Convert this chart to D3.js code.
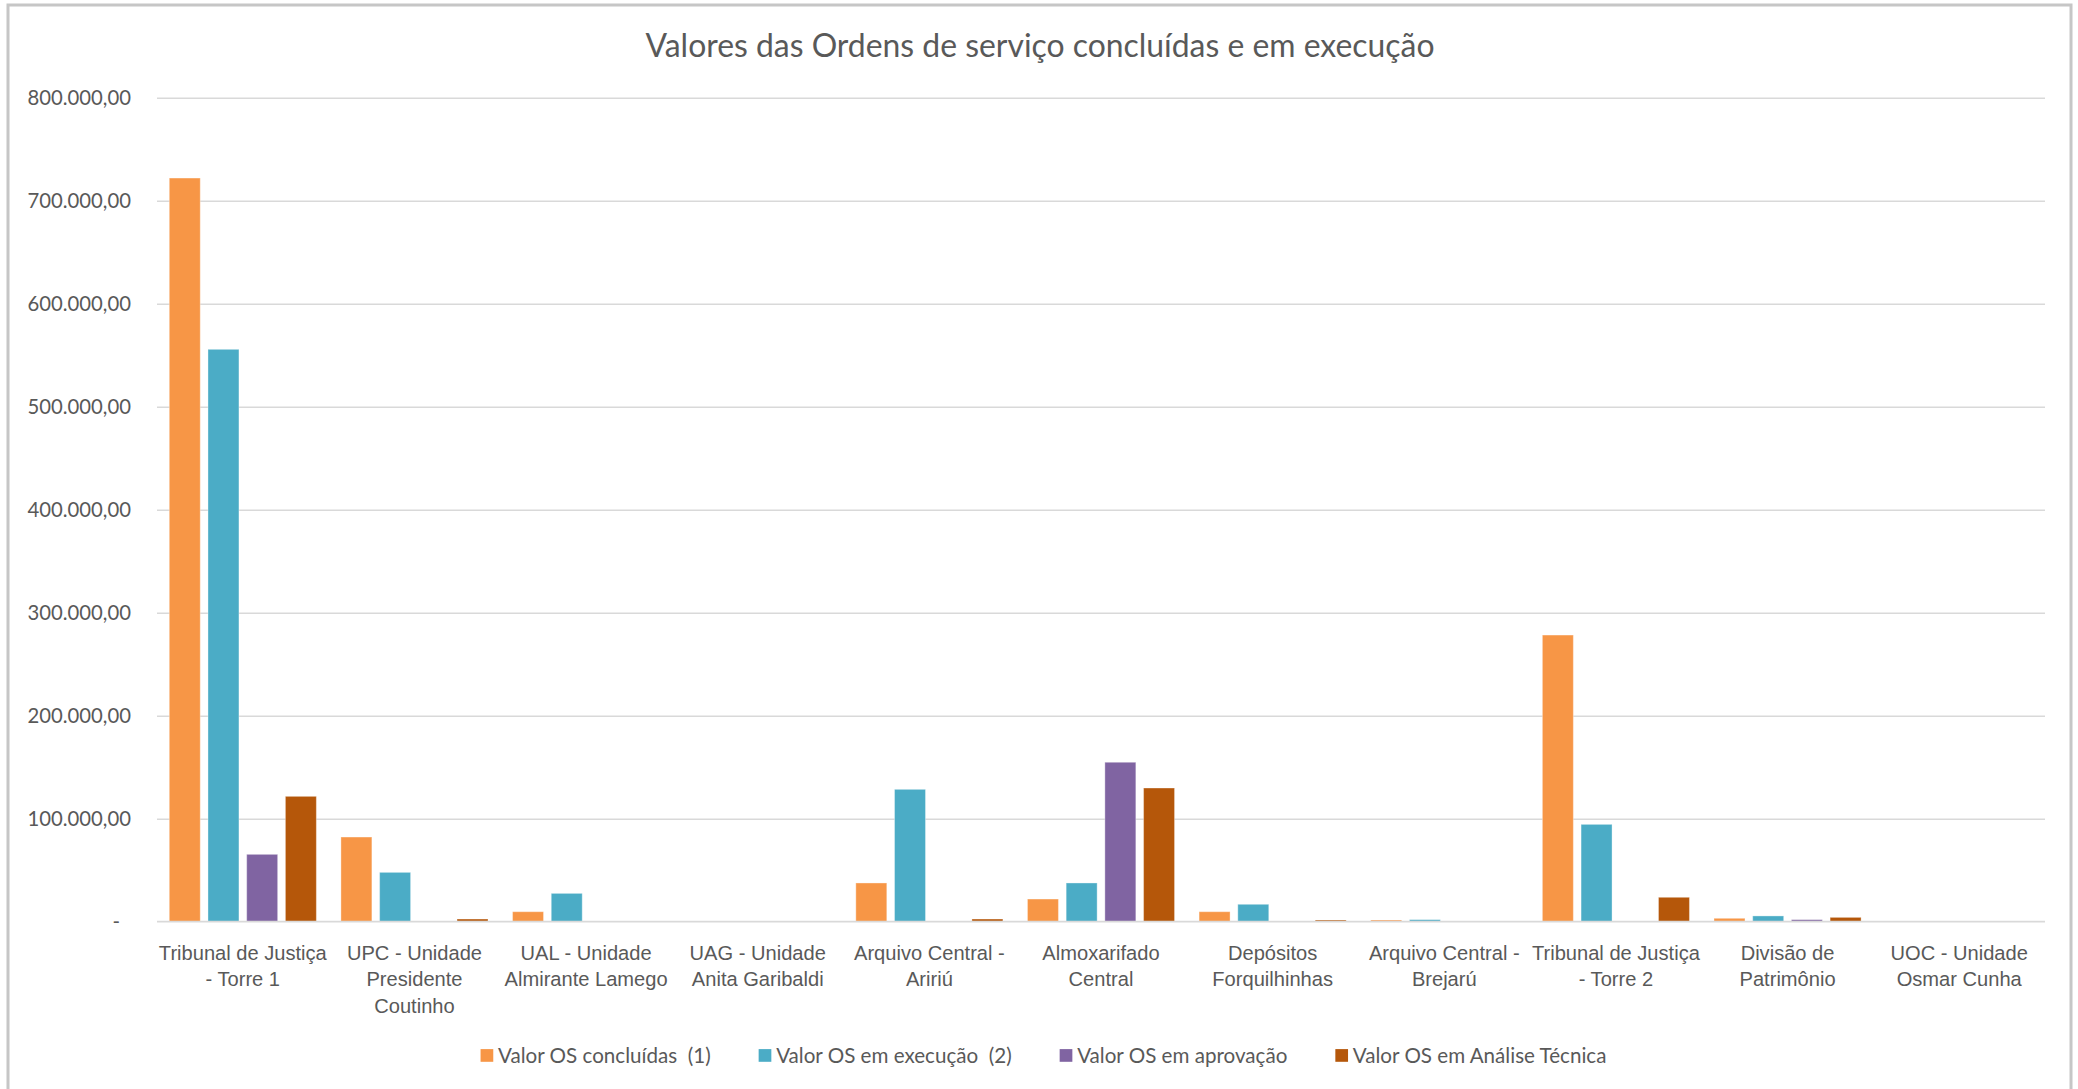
<!DOCTYPE html>
<html>
<head>
<meta charset="utf-8">
<script src="https://cdn.jsdelivr.net/npm/d3@7"></script>
<style>
  html, body { margin: 0; padding: 0; background: #fff; }
  svg { display: block; font-family: Lato, "Open Sans", sans-serif; }
  text { fill: #595959; }
</style>
</head>
<body>
<svg id="chart" width="2078" height="1089"></svg>
<script>
// Units (line breaks follow the axis label wrapping)
const categories = [
  "Tribunal de Justiça\n- Torre 1",
  "UPC - Unidade\nPresidente\nCoutinho",
  "UAL - Unidade\nAlmirante Lamego",
  "UAG - Unidade\nAnita Garibaldi",
  "Arquivo Central -\nAririú",
  "Almoxarifado\nCentral",
  "Depósitos\nForquilhinhas",
  "Arquivo Central -\nBrejarú",
  "Tribunal de Justiça\n- Torre 2",
  "Divisão de\nPatrimônio",
  "UOC - Unidade\nOsmar Cunha"
];

const seriesNames = [
  "Valor OS concluídas  (1)",
  "Valor OS em execução  (2)",
  "Valor OS em aprovação",
  "Valor OS em Análise Técnica"
];

// Values in R$
const concluidas = [722000, 82200, 9700, 0, 37600, 22000, 9700, 1600, 278300, 3300, 400];
const emExecucao = [555700, 47900, 27500, 0, 128500, 37600, 16900, 2000, 94500, 5600, 0];
const emAprovacao = [65400, 0, 400, 0, 300, 154800, 0, 0, 500, 2000, 0];
const emAnaliseTecnica = [121700, 2600, 400, 0, 2600, 129800, 1600, 0, 23700, 4200, 0];

const yTicks = [0, 100000, 200000, 300000, 400000, 500000, 600000, 700000, 800000];
const seriesColors = ["#F79646", "#4BACC6", "#8064A2", "#B5570A"];

const title = "Valores das Ordens de serviço concluídas e em execução";

const seriesValues = [concluidas, emExecucao, emAprovacao, emAnaliseTecnica];

const svg = d3.select("#chart");
const plot = { left: 157, right: 2045, top: 97.7, bottom: 921.7 };

// Outer chart frame
svg.append("rect")
  .attr("x", 8).attr("y", 5)
  .attr("width", 2063).attr("height", 1100)
  .attr("fill", "#fff")
  .attr("stroke", "#c6c6c6")
  .attr("stroke-width", 3);

const ptBR = d3.formatLocale({ decimal: ",", thousands: ".", grouping: [3], currency: ["R$ ", ""] });
const fmt = ptBR.format(",.2f");

const y = d3.scaleLinear().domain([0, 800000]).range([plot.bottom, plot.top]);
const x0 = d3.scaleBand().domain(d3.range(categories.length)).range([plot.left, plot.right]).padding(0);
const inset = (x0.bandwidth() - x0.bandwidth() * 0.902) / 2;
const x1 = d3.scaleBand().domain(d3.range(seriesNames.length))
  .range([inset, x0.bandwidth() - inset])
  .paddingInner(0.2).paddingOuter(0.1);

// Horizontal gridlines
const gridAxis = d3.axisLeft(y).tickValues(yTicks.filter(d => d > 0))
  .tickSize(-(plot.right - plot.left)).tickFormat("");
const grid = svg.append("g").attr("transform", `translate(${plot.left},0)`).call(gridAxis);
grid.select(".domain").remove();
grid.selectAll(".tick line").attr("stroke", "#d9d9d9").attr("stroke-width", 1.6);

// Y axis labels
const yAxis = d3.axisLeft(y).tickValues(yTicks).tickSize(0).tickPadding(26)
  .tickFormat(d => d === 0 ? "-" : fmt(d));
const yg = svg.append("g").attr("transform", `translate(${plot.left},0)`).call(yAxis);
yg.select(".domain").remove();
yg.selectAll(".tick text")
  .attr("fill", "#595959")
  .style("font-size", "20.3px")
  .style("font-family", "Lato, sans-serif");
yg.selectAll(".tick").filter(d => d === 0).select("text").attr("dx", -11);

// Bars
const groups = svg.append("g").selectAll("g")
  .data(categories)
  .join("g")
  .attr("transform", (d, i) => `translate(${x0(i)},0)`);

groups.selectAll("rect")
  .data((d, i) => seriesValues.map((vals, s) => ({ s, v: vals[i] })))
  .join("rect")
  .filter(d => d.v > 0)
  .attr("x", d => x1(d.s))
  .attr("width", x1.bandwidth())
  .attr("y", d => y(d.v))
  .attr("height", d => y(0) - y(d.v))
  .attr("fill", d => seriesColors[d.s])
  .attr("stroke", "rgba(255,255,255,0.35)")
  .attr("stroke-width", 1);

// Baseline
svg.append("line")
  .attr("x1", plot.left).attr("x2", plot.right)
  .attr("y1", y(0)).attr("y2", y(0))
  .attr("stroke", "#d9d9d9").attr("stroke-width", 1.8);

// Category labels
const xAxis = d3.axisBottom(x0).tickSize(0).tickFormat("");
const xg = svg.append("g").attr("transform", `translate(0,${plot.bottom})`).call(xAxis);
xg.select(".domain").remove();
xg.selectAll(".tick").each(function(i) {
  const t = d3.select(this).append("text")
    .attr("text-anchor", "middle")
    .attr("fill", "#595959")
    .style("font-size", "20.1px");
  categories[i].split("\n").forEach((line, k) => {
    t.append("tspan").attr("x", 0).attr("y", 38 + k * 26.7).text(line);
  });
});

// Title
svg.append("text")
  .attr("x", 1040).attr("y", 57)
  .attr("text-anchor", "middle")
  .style("font-size", "31.9px")
  .attr("fill", "#595959")
  .text(title);

// Legend
const legend = svg.append("g");
let lx = 0;
seriesNames.forEach((name, s) => {
  const item = legend.append("g").attr("transform", `translate(${lx},0)`);
  item.append("rect").attr("x", 0).attr("y", -6.4).attr("width", 12.7).attr("height", 12.7)
    .attr("fill", seriesColors[s]);
  const t = item.append("text").attr("x", 17.5).attr("y", 0).attr("dy", "0.35em")
    .style("font-size", "20.6px").style("white-space", "pre").attr("fill", "#595959")
    .text(name);
  lx += 17.5 + t.node().getComputedTextLength() + 48;
});
const legendWidth = lx - 48;
legend.attr("transform", `translate(${1043.5 - legendWidth / 2},1055.5)`);
</script>
</body>
</html>
